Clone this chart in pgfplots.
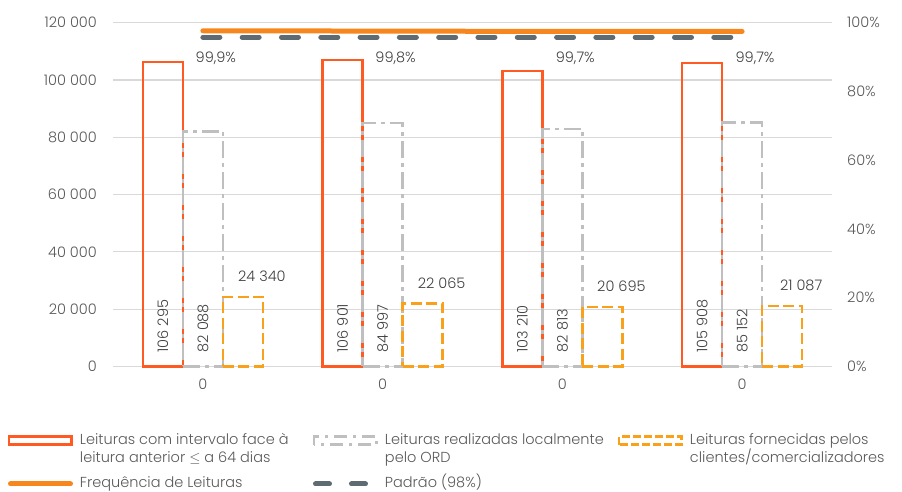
\documentclass[border=0pt]{standalone}
\usepackage{fontspec}
\setmainfont{Poppins}[UprightFont=* Light]
\usepackage{pgfplots}
\usepackage{pgfplotstable}
\pgfplotsset{compat=1.18}
\definecolor{cRed}{HTML}{FF5A22}
\definecolor{cOrg}{HTML}{F9A11B}
\definecolor{cGrayBar}{HTML}{BFBFBF}
\definecolor{cLine}{HTML}{F8861F}
\definecolor{cDash}{HTML}{5F6B73}
\definecolor{cGrid}{HTML}{D9D9D9}
\definecolor{cTick}{HTML}{595959}
\definecolor{cLab}{HTML}{404040}
\pgfkeys{/pgf/number format/.cd, fixed, precision=0, assume math mode=true, 1000 sep={\ }}

\pgfplotstableread{
x red gray orange
0 106295 82088 24340
1 106901 84997 22065
2 103210 82813 20695
3 105908 85152 21087
}\bars
\pgfplotstableread{
x freq pad
0 99.9 98
1 99.8 98
2 99.7 98
3 99.7 98
}\lines

\newcommand{\fnt}{\fontsize{14.5}{18}\selectfont}

\pgfplotsset{
 base/.style={at={(113pt,125.5pt)}, anchor=south west, scale only axis,
   width=719pt, height=343.8pt, xmin=-0.5, xmax=3.5},
 legRed/.style={legend image code/.code={\draw[cRed,line width=2.5pt] (1.25pt,0pt) rectangle (63.75pt,8pt);}},
 legGray/.style={legend image code/.code={\draw[cGrayBar,line width=2.5pt,dash pattern=on 13pt off 6pt on 3pt off 6pt] (1.25pt,0pt) rectangle (63.75pt,8pt);}},
 legOrg/.style={legend image code/.code={\draw[cOrg,line width=2.5pt,dash pattern=on 8pt off 3pt] (1.25pt,0pt) rectangle (63.75pt,8pt);}},
 legLine/.style={legend image code/.code={\draw[cLine,line width=5pt,line cap=round] (2.5pt,4pt) -- (62.5pt,4pt);}},
 legDash/.style={legend image code/.code={\path[draw=none] (0pt,4pt) -- (65pt,4pt); \draw[cDash,line width=5pt,line cap=round] (2.5pt,4pt) -- (16.5pt,4pt) (38.5pt,4pt) -- (52.5pt,4pt);}},
}

\begin{document}
\begin{tikzpicture}
\useasboundingbox (0,0) rectangle (902pt,492pt);
% main bar axis
\begin{axis}[base, ymin=0, ymax=120000,
  xtick={0,1,2,3}, xticklabels={0,0,0,0},
  ytick={0,20000,40000,60000,80000,100000,120000},
  scaled y ticks=false,
  ymajorgrids, grid style={draw=cGrid, line width=1.2pt},
  axis line style={draw=none},
  major tick length=0pt,
  tick label style={font=\fnt, text=cTick, inner sep=0pt},
  yticklabel style={xshift=-16pt},
  xticklabel style={yshift=-12pt},
  clip=false,
]
\addplot[ybar, bar width=40pt, bar shift=-40pt, draw=cRed, line width=2.5pt, fill=none]
  table[x=x,y=red]{\bars};
\addplot[ybar, bar width=40pt, bar shift=0pt, draw=cGrayBar, line width=2.5pt, fill=none,
  dash pattern=on 17pt off 5pt on 4pt off 5pt]
  table[x=x,y=gray]{\bars};
\addplot[ybar, bar width=40pt, bar shift=40pt, draw=cOrg, line width=2.5pt, fill=none,
  dash pattern=on 11pt off 4.5pt]
  table[x=x,y=orange]{\bars};
% value labels
\addplot[draw=none, mark=none, nodes near coords,
  nodes near coords style={anchor=south, inner sep=0pt, xshift=59pt, yshift=15pt, font=\fnt, text=cLab}]
  table[x=x,y=orange]{\bars};
\addplot[draw=none, mark=none, point meta=explicit, nodes near coords,
  nodes near coords style={xshift=-40pt, rotate=90, anchor=west, inner xsep=14pt, inner ysep=0pt, font=\fnt, text=cLab}]
  table[x=x, y expr=0, meta=red]{\bars};
\addplot[draw=none, mark=none, point meta=explicit, nodes near coords,
  nodes near coords style={rotate=90, anchor=west, inner xsep=14pt, inner ysep=0pt, font=\fnt, text=cLab}]
  table[x=x, y expr=0, meta=gray]{\bars};
\node[font=\fnt, text=cLab] at (axis cs:0.072,107505) {99,9\%};
\node[font=\fnt, text=cLab] at (axis cs:1.072,107505) {99,8\%};
\node[font=\fnt, text=cLab] at (axis cs:2.072,107505) {99,7\%};
\node[font=\fnt, text=cLab] at (axis cs:3.072,107505) {99,7\%};
\end{axis}
% right percent axis
\begin{axis}[base, ymin=0, ymax=100,
  axis x line=none, axis y line*=right, axis line style={draw=none},
  major tick length=0pt, ytick={0,20,40,60,80,100},
  yticklabel={\pgfmathprintnumber{\tick}\%},
  tick label style={font=\fnt, text=cTick, inner sep=0pt},
  yticklabel style={xshift=15pt},
]
\end{axis}
% line axis
\begin{axis}[base, ymin=0, ymax=102.3, hide axis, clip=false,
  legend columns=3,
  legend style={at={(-0.14604,-0.19488)}, anchor=north west, draw=none, fill=none,
    inner sep=0pt, outer sep=0pt, row sep=8pt, font=\fnt, text=cTick,
    nodes={inner sep=0pt, text depth=},
    cells={anchor=base west},
    /tikz/every odd column/.append style={column sep=7pt},
    /tikz/every even column/.append style={column sep=8pt}},
]
\addlegendimage{legRed}
\addlegendentry{\parbox[t]{225pt}{Leituras com intervalo face à\\leitura anterior $\leq$ a 64 dias}}
\addlegendimage{legGray}
\addlegendentry{\parbox[t]{225pt}{Leituras realizadas localmente\\pelo ORD}}
\addlegendimage{legOrg}
\addlegendentry{\parbox[t]{225pt}{Leituras fornecidas pelos\\clientes/comercializadores}}
\addplot[cDash, line width=5pt, line cap=round, dash pattern=on 17pt off 22.3pt, forget plot]
  table[x=x,y=pad]{\lines};
\addplot[cLine, line width=5pt, line cap=round, legLine]
  table[x=x,y=freq]{\lines};
\addlegendentry{\parbox[t]{225pt}{Frequência de Leituras}}
\addlegendimage{legDash}
\addlegendentry{\parbox[t]{225pt}{Padrão (98\%)}}
\end{axis}
\end{tikzpicture}
\end{document}
